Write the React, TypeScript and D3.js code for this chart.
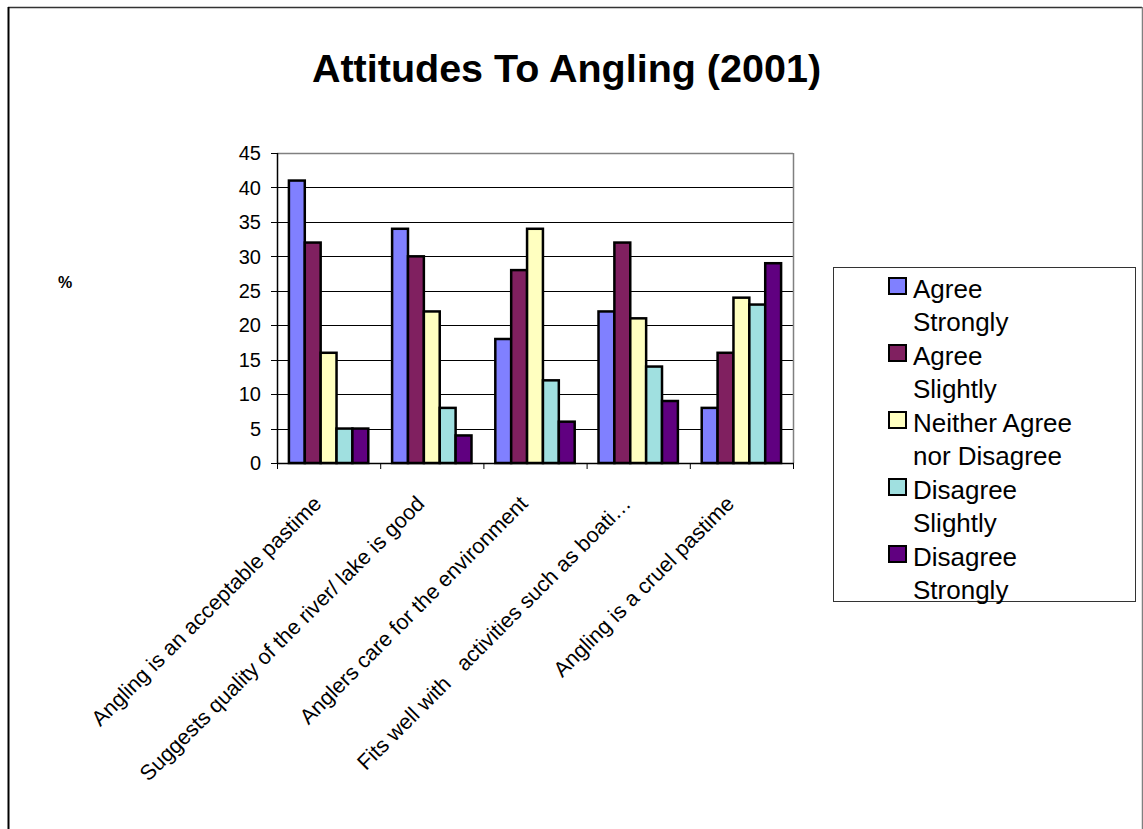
import React from "react";
import * as d3 from "d3";

// Survey statements (x categories)
const categories: string[] = [
  "Angling is an acceptable pastime",
  "Suggests quality of the river/ lake is good",
  "Anglers care for the environment",
  "Fits well with   activities such as boati…",
  "Angling is a cruel pastime",
];

// Response series, in legend order
const seriesNames: string[] = [
  "Agree Strongly",
  "Agree Slightly",
  "Neither Agree nor Disagree",
  "Disagree Slightly",
  "Disagree Strongly",
];

// Legend text as it wraps in the key box
const legendLines: string[][] = [
  ["Agree", "Strongly"],
  ["Agree", "Slightly"],
  ["Neither Agree", "nor Disagree"],
  ["Disagree", "Slightly"],
  ["Disagree", "Strongly"],
];

const seriesColors: string[] = ["#8080FF", "#802060", "#FFFFC0", "#A0E0E0", "#600080"];

// Percent per statement, one array per response series
const agreeStrongly: number[] = [41, 34, 18, 22, 8];
const agreeSlightly: number[] = [32, 30, 28, 32, 16];
const neither: number[] = [16, 22, 34, 21, 24];
const disagreeSlightly: number[] = [5, 8, 12, 14, 23];
const disagreeStrongly: number[] = [5, 4, 6, 9, 29];

const seriesValues: number[][] = [agreeStrongly, agreeSlightly, neither, disagreeSlightly, disagreeStrongly];

const yTicks: number[] = [0, 5, 10, 15, 20, 25, 30, 35, 40, 45];

const W = 1143;
const H = 829;
const FONT = "'Liberation Sans', Arial, Helvetica, sans-serif";

export default function App() {
  const plot = { left: 277, right: 793, top: 153, bottom: 463 };

  const y = d3.scaleLinear().domain([0, 45]).range([plot.bottom, plot.top]);
  const x0 = d3.scaleBand<string>().domain(categories).range([plot.left, plot.right]).padding(0);
  const bw = x0.bandwidth();
  const barW = bw / 6.5; // 150% gap width
  const gap = barW * 1.5;
  const x1 = d3
    .scaleBand<string>()
    .domain(seriesNames)
    .range([gap / 2, bw - gap / 2])
    .padding(0);

  const boundaries = categories.map((c) => x0(c) as number).concat([plot.right]);

  const legend = { x: 833, y: 267, w: 302, h: 334 };

  return (
    <svg
      width={W}
      height={H}
      style={{ position: "absolute", left: 0, top: 0, background: "#fff" }}
      fontFamily={FONT}
    >
      <rect x={0} y={0} width={W} height={H} fill="#fff" />
      {/* chart frame */}
      <line x1={8} y1={7.5} x2={1142} y2={7.5} stroke="#333" strokeWidth={1.5} />
      <line x1={8.5} y1={7} x2={8.5} y2={H} stroke="#000" strokeWidth={2} />
      <line x1={1142.5} y1={7} x2={1142.5} y2={H} stroke="#808080" strokeWidth={1.5} />

      {/* title */}
      <text x={566.5} y={82} textAnchor="middle" fontSize={39.5} fontWeight="bold" fill="#000">
        Attitudes To Angling (2001)
      </text>

      {/* y-axis title */}
      <text x={65} y={288} textAnchor="middle" fontSize={16} fontWeight="bold" fill="#000">
        %
      </text>

      {/* gridlines */}
      {yTicks
        .filter((t) => t > 0 && t < 45)
        .map((t) => (
          <line
            key={"g" + t}
            x1={plot.left}
            x2={plot.right}
            y1={Math.round(y(t)) + 0.5}
            y2={Math.round(y(t)) + 0.5}
            stroke="#000"
            strokeWidth={1}
          />
        ))}

      {/* plot area border (top and right) */}
      <line x1={plot.left} x2={plot.right} y1={plot.top + 0.5} y2={plot.top + 0.5} stroke="#808080" strokeWidth={1.5} />
      <line x1={plot.right + 0.5} x2={plot.right + 0.5} y1={plot.top} y2={plot.bottom} stroke="#808080" strokeWidth={1.5} />

      {/* bars */}
      {categories.map((c, ci) => (
        <g key={c} transform={`translate(${x0(c)},0)`}>
          {seriesNames.map((s, si) => {
            const v = seriesValues[si][ci];
            return (
              <rect
                key={s}
                x={x1(s) as number}
                y={y(v)}
                width={x1.bandwidth()}
                height={y(0) - y(v)}
                fill={seriesColors[si]}
                stroke="#000"
                strokeWidth={2.5}
              />
            );
          })}
        </g>
      ))}

      {/* y axis */}
      <line x1={plot.left + 0.5} x2={plot.left + 0.5} y1={plot.top} y2={plot.bottom} stroke="#000" strokeWidth={1.5} />
      {yTicks.map((t) => (
        <g key={"t" + t}>
          <line
            x1={plot.left - 6}
            x2={plot.left}
            y1={Math.round(y(t)) + 0.5}
            y2={Math.round(y(t)) + 0.5}
            stroke="#000"
            strokeWidth={1}
          />
          <text x={261} y={y(t)} dy="0.36em" textAnchor="end" fontSize={20} fill="#000">
            {t}
          </text>
        </g>
      ))}

      {/* x axis */}
      <line x1={plot.left} x2={plot.right + 1} y1={plot.bottom + 0.5} y2={plot.bottom + 0.5} stroke="#000" strokeWidth={1.5} />
      {boundaries.map((bx, i) => (
        <line key={"xt" + i} x1={bx + 0.5} x2={bx + 0.5} y1={plot.bottom} y2={plot.bottom + 6} stroke="#000" strokeWidth={1} />
      ))}
      {categories.map((c) => {
        const cx = (x0(c) as number) + bw / 2 - 6;
        const cy = 505;
        return (
          <text
            key={"l" + c}
            transform={`translate(${cx},${cy}) rotate(-45)`}
            textAnchor="end"
            fontSize={21.5}
            fill="#000"
            style={{ whiteSpace: "pre" }}
          >
            {c}
          </text>
        );
      })}

      {/* legend */}
      <rect
        x={legend.x + 0.5}
        y={legend.y + 0.5}
        width={legend.w}
        height={legend.h}
        fill="#fff"
        stroke="#333"
        strokeWidth={1}
      />
      {seriesNames.map((s, i) => {
        const top = 278 + i * 67;
        return (
          <g key={"k" + s}>
            <rect x={889} y={top} width={17} height={16} fill={seriesColors[i]} stroke="#000" strokeWidth={2} />
            {legendLines[i].map((ln, li) => (
              <text key={li} x={913} y={298 + i * 67 + li * 32.5} fontSize={26} fill="#000">
                {ln}
              </text>
            ))}
          </g>
        );
      })}
    </svg>
  );
}
